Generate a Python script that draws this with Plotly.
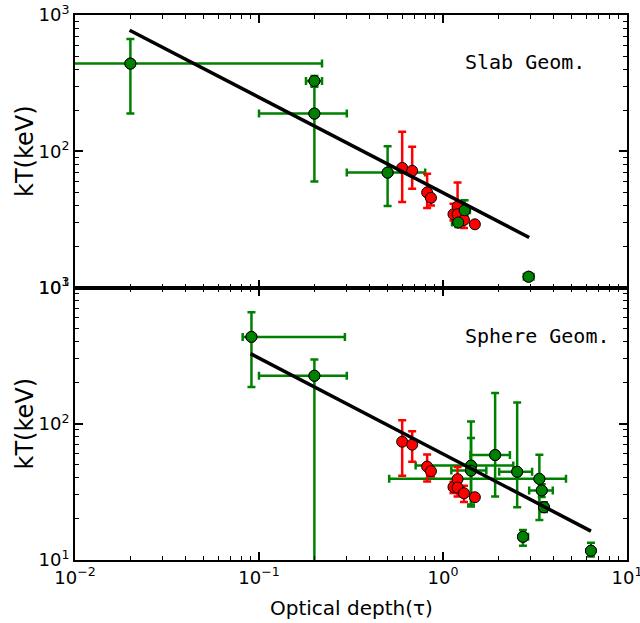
import plotly.graph_objects as go
from plotly.subplots import make_subplots

# ---------------- data ----------------
# Slab geometry (top panel)
tau_g_slab = [0.020, 0.20, 0.20, 0.50, 1.21, 1.31, 2.92]
tau_g_slab_lo = [0.005, 0.18, 0.10, 0.30, 1.12, 1.23, 2.75]
tau_g_slab_hi = [0.22, 0.22, 0.30, 0.80, 1.30, 1.40, 3.10]
kt_g_slab = [440, 328, 189, 69.7, 30.0, 36.9, 12.0]
kt_g_slab_lo = [189, 302, 60, 39.7, 27.8, 33.5, 11.3]
kt_g_slab_hi = [667, 356, 298, 109, 32.3, 43.6, 12.7]

tau_r = [0.60, 0.68, 0.82, 0.86, 1.14, 1.20, 1.20, 1.30, 1.49]
kt_r_slab = [75.5, 71.8, 49.8, 45.5, 34.5, 39.3, 34.5, 31.3, 29.1]
kt_r_slab_lo = [42.5, 53.0, 38.4, 40.0, 31.0, 36.0, 31.5, 27.3, 28.0]
kt_r_slab_hi = [139, 108, 68.5, 48.0, 41.2, 58.9, 37.5, 35.0, 30.5]

fit_slab_tau = [0.0198, 2.94]
fit_slab_kt = [773, 23.3]

# Sphere geometry (bottom panel)
tau_g_sph = [0.091, 0.20, 1.42, 1.42, 1.92, 2.53, 3.34, 3.44, 3.54, 2.72, 6.37]
tau_g_sph_lo = [0.0815, 0.10, 0.71, 1.11, 1.41, 2.02, 0.51, 2.94, 3.40, 2.61, 6.20]
tau_g_sph_hi = [0.293, 0.30, 2.41, 1.72, 2.31, 3.05, 4.66, 3.95, 3.68, 2.90, 6.55]
kt_g_sph = [434, 225, 49.3, 45.3, 58.9, 44.4, 39.4, 32.4, 24.4, 14.8, 11.7]
kt_g_sph_lo = [186, 3, 24.7, 25.5, 29.2, 24.4, 19.7, 29.0, 22.5, 12.7, 10.6]
kt_g_sph_hi = [658, 296, 104, 78.5, 168, 143.5, 59.2, 36.0, 26.5, 16.6, 13.4]

kt_r_sph = [73.8, 70.2, 48.5, 44.9, 34.3, 39.2, 34.0, 30.9, 28.9]
kt_r_sph_lo = [41.5, 52.6, 37.7, 41.0, 31.0, 29.2, 31.0, 26.7, 28.0]
kt_r_sph_hi = [106, 88, 59.4, 47.0, 37.5, 48.1, 37.0, 35.0, 30.0]

fit_sph_tau = [0.090, 6.37]
fit_sph_kt = [327, 16.3]

x_tickvals = [0.01, 0.1, 1, 10]
x_ticktext = ["10<sup>−2</sup>", "10<sup>−1</sup>", "10<sup>0</sup>", "10<sup>1</sup>"]
y_tickvals = [10, 100, 1000]
y_ticktext = ["10<sup>1</sup>", "10<sup>2</sup>", "10<sup>3</sup>"]
x_minor = [m * 10.0 ** e for e in (-2, -1, 0) for m in range(2, 10)]
y_minor = [m * 10.0 ** e for e in (1, 2) for m in range(2, 10)]

GREEN = "#008000"
RED = "#ff0000"

fig = make_subplots(rows=2, cols=1, shared_xaxes=True, vertical_spacing=0)


def add_panel(row, tg, tglo, tghi, kg, kglo, kghi, kr, krlo, krhi, ft, fk):
    fig.add_trace(go.Scatter(
        x=tg, y=kg, mode="markers",
        marker=dict(color=GREEN, size=11, line=dict(color="black", width=1)),
        error_x=dict(type="data", symmetric=False,
                     array=[h - c for h, c in zip(tghi, tg)],
                     arrayminus=[c - l for l, c in zip(tglo, tg)],
                     color=GREEN, thickness=2.5, width=4),
        error_y=dict(type="data", symmetric=False,
                     array=[h - c for h, c in zip(kghi, kg)],
                     arrayminus=[c - l for l, c in zip(kglo, kg)],
                     color=GREEN, thickness=2.5, width=4),
        showlegend=False), row=row, col=1)
    fig.add_trace(go.Scatter(
        x=tau_r, y=kr, mode="markers",
        marker=dict(color=RED, size=11, line=dict(color="black", width=1)),
        error_y=dict(type="data", symmetric=False,
                     array=[h - c for h, c in zip(krhi, kr)],
                     arrayminus=[c - l for l, c in zip(krlo, kr)],
                     color=RED, thickness=2.5, width=4),
        showlegend=False), row=row, col=1)
    fig.add_trace(go.Scatter(
        x=tg, y=kg, mode="markers",
        marker=dict(color=GREEN, size=11, line=dict(color="black", width=1)),
        showlegend=False), row=row, col=1)
    fig.add_trace(go.Scatter(
        x=ft, y=fk, mode="lines", line=dict(color="black", width=3.5),
        showlegend=False), row=row, col=1)


add_panel(1, tau_g_slab, tau_g_slab_lo, tau_g_slab_hi, kt_g_slab, kt_g_slab_lo,
          kt_g_slab_hi, kt_r_slab, kt_r_slab_lo, kt_r_slab_hi, fit_slab_tau, fit_slab_kt)
add_panel(2, tau_g_sph, tau_g_sph_lo, tau_g_sph_hi, kt_g_sph, kt_g_sph_lo,
          kt_g_sph_hi, kt_r_sph, kt_r_sph_lo, kt_r_sph_hi, fit_sph_tau, fit_sph_kt)

tickfont = dict(family="DejaVu Sans", size=18, color="black")
axis_common = dict(
    type="log", showgrid=False, zeroline=False, showline=True,
    linecolor="black", linewidth=2, mirror="allticks",
    ticks="inside", ticklen=8, tickwidth=1.5, tickcolor="black",
    tickfont=tickfont, ticklabeloverflow="allow", automargin=False,
)

for r in (1, 2):
    fig.update_xaxes(axis_common, range=[-2, 1], tickmode="array",
                     tickvals=x_tickvals, ticktext=x_ticktext,
                     minor=dict(tickmode="array", tickvals=x_minor, ticks="inside",
                                ticklen=4, tickwidth=1, tickcolor="black", showgrid=False),
                     showticklabels=(r == 2), row=r, col=1)
    fig.update_yaxes(axis_common, range=[1, 3], tickmode="array",
                     tickvals=y_tickvals, ticktext=y_ticktext,
                     minor=dict(tickmode="array", tickvals=y_minor, ticks="inside",
                                ticklen=4, tickwidth=1, tickcolor="black", showgrid=False),
                     row=r, col=1)

ann = []
ann.append(dict(text="Slab Geom.", x=0.703, y=0.914, xref="paper", yref="paper",
                xanchor="left", yanchor="middle", showarrow=False,
                font=dict(family="DejaVu Sans Mono", size=20, color="black")))
ann.append(dict(text="Sphere Geom.", x=0.703, y=0.411, xref="paper", yref="paper",
                xanchor="left", yanchor="middle", showarrow=False,
                font=dict(family="DejaVu Sans Mono", size=20, color="black")))
for yp in (0.75, 0.25):
    ann.append(dict(text="kT(keV)", x=-0.091, y=yp, xref="paper", yref="paper",
                    xanchor="center", yanchor="middle", textangle=-90, showarrow=False,
                    font=dict(family="DejaVu Sans", size=24, color="black")))
ann.append(dict(text="Optical depth(τ)", x=0.5, y=-0.088, xref="paper", yref="paper",
                xanchor="center", yanchor="middle", showarrow=False,
                font=dict(family="DejaVu Sans", size=20, color="black")))

fig.update_layout(
    width=640, height=623,
    margin=dict(l=75, r=13, t=15, b=63, autoexpand=False),
    plot_bgcolor="white", paper_bgcolor="white",
    annotations=ann,
)

fig.write_html("out.html")
